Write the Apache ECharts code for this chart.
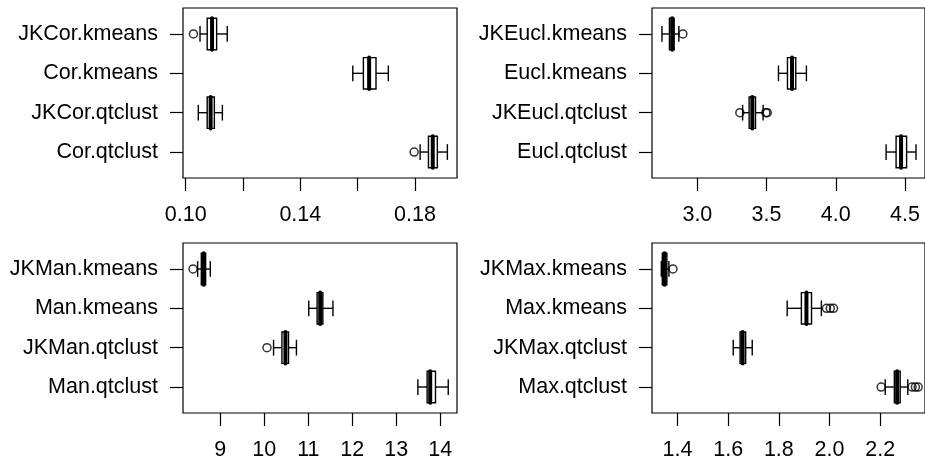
<!DOCTYPE html>
<html>
<head>
<meta charset="utf-8">
<script src="https://cdn.jsdelivr.net/npm/echarts@6/dist/echarts.min.js"></script>
<style>
html,body{margin:0;padding:0;background:#fff;}
#chart{width:925px;height:466px;}
</style>
</head>
<body>
<div id="chart"></div>
<script>
// ---- Data (groups listed bottom-to-top, as R numbers them) ----
const corNames = ['Cor.qtclust', 'JKCor.qtclust', 'Cor.kmeans', 'JKCor.kmeans'];
// [lower whisker, Q1, median, Q3, upper whisker]
const corStats = [
  [0.1818, 0.1847, 0.1862, 0.1878, 0.1913],
  [0.1044, 0.1075, 0.1087, 0.1100, 0.1128],
  [0.1583, 0.1620, 0.1640, 0.1664, 0.1707],
  [0.1050, 0.1075, 0.1092, 0.1108, 0.1145]
];
const corOutliers = [[0.1797], [], [], [0.1027]];
const corTicks = [0.10, 0.12, 0.14, 0.16, 0.18];
const corTickLabels = [0.10, 0.14, 0.18];

const euclNames = ['Eucl.qtclust', 'JKEucl.qtclust', 'Eucl.kmeans', 'JKEucl.kmeans'];
const euclStats = [
  [4.364, 4.436, 4.472, 4.512, 4.580],
  [3.327, 3.374, 3.397, 3.420, 3.475],
  [3.586, 3.651, 3.684, 3.711, 3.788],
  [2.744, 2.798, 2.818, 2.832, 2.866]
];
const euclOutliers = [[], [3.307, 3.495, 3.505], [], [2.895]];
const euclTicks = [3.0, 3.5, 4.0, 4.5];
const euclTickLabels = [3.0, 3.5, 4.0, 4.5];

const manNames = ['Man.qtclust', 'JKMan.qtclust', 'Man.kmeans', 'JKMan.kmeans'];
const manStats = [
  [13.49, 13.70, 13.77, 13.89, 14.18],
  [10.21, 10.40, 10.48, 10.55, 10.73],
  [11.01, 11.20, 11.27, 11.33, 11.56],
  [8.485, 8.568, 8.621, 8.666, 8.773]
];
const manOutliers = [[], [10.06], [], [8.38]];
const manTicks = [9, 10, 11, 12, 13, 14];
const manTickLabels = [9, 10, 11, 12, 13, 14];

const maxNames = ['Max.qtclust', 'JKMax.qtclust', 'Max.kmeans', 'JKMax.kmeans'];
const maxStats = [
  [2.220, 2.256, 2.267, 2.279, 2.309],
  [1.620, 1.647, 1.657, 1.669, 1.695],
  [1.833, 1.889, 1.909, 1.929, 1.968],
  [1.336, 1.340, 1.349, 1.358, 1.366]
];
const maxOutliers = [[2.204, 2.326, 2.339, 2.350], [], [1.988, 2.003, 2.016], [1.382]];
const maxTicks = [1.4, 1.6, 1.8, 2.0, 2.2];
const maxTickLabels = [1.4, 1.6, 1.8, 2.0, 2.2];

// ---- Layout ----
const FONT = 'Liberation Sans, Arial, sans-serif';
const FS = 21.5;
const panels = [
  {names: corNames, stats: corStats, out: corOutliers, ticks: corTicks, labels: corTickLabels, dec: 2,
   xmin: 0.09906, xmax: 0.19466, grid: {left: 183, top: 8, width: 274, height: 170}},
  {names: euclNames, stats: euclStats, out: euclOutliers, ticks: euclTicks, labels: euclTickLabels, dec: 1,
   xmin: 2.672, xmax: 4.645, grid: {left: 652, top: 8, width: 274, height: 170}},
  {names: manNames, stats: manStats, out: manOutliers, ticks: manTicks, labels: manTickLabels, dec: 0,
   xmin: 8.152, xmax: 14.379, grid: {left: 183, top: 243, width: 274, height: 170}},
  {names: maxNames, stats: maxStats, out: maxOutliers, ticks: maxTicks, labels: maxTickLabels, dec: 1,
   xmin: 1.2993, xmax: 2.377, grid: {left: 652, top: 243, width: 274, height: 170}}
];

const grids = [], xAxes = [], yAxes = [], series = [];

function boxRender(params, api) {
  const y = api.value(0);
  const lo = api.value(1), q1 = api.value(2), md = api.value(3), q3 = api.value(4), hi = api.value(5);
  const half = api.size([0, 0.4])[1];
  const stapleHalf = half * 0.5;
  const pLo = api.coord([lo, y]), pQ1 = api.coord([q1, y]), pMd = api.coord([md, y]);
  const pQ3 = api.coord([q3, y]), pHi = api.coord([hi, y]);
  const cy = pMd[1];
  const ls = {stroke: '#000', lineWidth: 1.4, fill: null};
  return {
    type: 'group',
    children: [
      {type: 'line', shape: {x1: pLo[0], y1: cy, x2: pQ1[0], y2: cy}, style: ls},
      {type: 'line', shape: {x1: pQ3[0], y1: cy, x2: pHi[0], y2: cy}, style: ls},
      {type: 'line', shape: {x1: pLo[0], y1: cy - stapleHalf, x2: pLo[0], y2: cy + stapleHalf}, style: ls},
      {type: 'line', shape: {x1: pHi[0], y1: cy - stapleHalf, x2: pHi[0], y2: cy + stapleHalf}, style: ls},
      {type: 'rect', shape: {x: pQ1[0], y: cy - half, width: pQ3[0] - pQ1[0], height: 2 * half},
       style: {stroke: '#000', lineWidth: 1.4, fill: '#fff'}},
      {type: 'line', shape: {x1: pMd[0], y1: cy - half, x2: pMd[0], y2: cy + half},
       style: {stroke: '#000', lineWidth: 4, lineCap: 'round'}}
    ]
  };
}

panels.forEach((p, i) => {
  grids.push(Object.assign({show: true, borderColor: '#000', borderWidth: 1.2, backgroundColor: 'transparent'}, p.grid));
  xAxes.push({
    type: 'value', gridIndex: i, min: p.xmin, max: p.xmax,
    axisLine: {show: false}, splitLine: {show: false},
    axisTick: {show: true, customValues: p.ticks, length: 13, lineStyle: {color: '#000', width: 1.2}},
    axisLabel: {customValues: p.labels, formatter: v => Number(v).toFixed(p.dec),
      margin: 26, fontSize: FS, color: '#000', fontFamily: FONT}
  });
  yAxes.push({
    type: 'value', gridIndex: i, min: 0.34, max: 4.66,
    axisLine: {show: false}, splitLine: {show: false},
    axisTick: {show: true, customValues: [1, 2, 3, 4], length: 13, lineStyle: {color: '#000', width: 1.2}},
    axisLabel: {customValues: [1, 2, 3, 4], formatter: v => p.names[Math.round(v) - 1],
      margin: 25, fontSize: FS, color: '#000', fontFamily: FONT}
  });
  series.push({
    type: 'custom', xAxisIndex: i, yAxisIndex: i,
    data: p.stats.map((s, k) => [k + 1].concat(s)),
    encode: {x: [1, 2, 3, 4, 5], y: 0},
    renderItem: boxRender, silent: true, clip: false
  });
  const outPts = [];
  p.out.forEach((arr, k) => arr.forEach(v => outPts.push([v, k + 1])));
  series.push({
    type: 'scatter', xAxisIndex: i, yAxisIndex: i, data: outPts,
    symbol: 'circle', symbolSize: 8, silent: true,
    itemStyle: {color: 'rgba(0,0,0,0)', borderColor: '#000', borderWidth: 1.5}
  });
});

const chart = echarts.init(document.getElementById('chart'), null, {renderer: 'canvas'});
chart.setOption({
  backgroundColor: '#fff',
  animation: false,
  grid: grids, xAxis: xAxes, yAxis: yAxes, series: series
});
</script>
</body>
</html>
